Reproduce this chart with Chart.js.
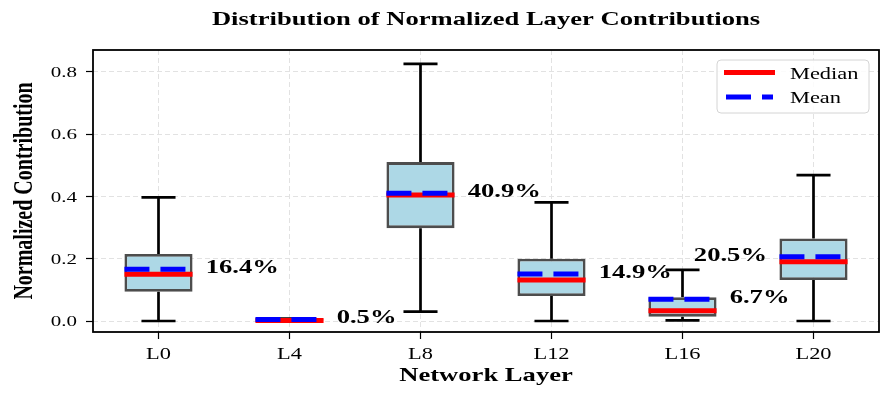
<!DOCTYPE html>
<html>
<head>
<meta charset="utf-8">
<script src="https://cdn.jsdelivr.net/npm/chart.js@4.4.1/dist/chart.umd.min.js"></script>
<style>
  html, body { margin: 0; padding: 0; background: #fff; }
  #wrap { width: 896px; height: 398px; position: relative; }
</style>
</head>
<body>
<div id="wrap"><canvas id="boxChart"></canvas></div>
<script>
// Box plot data
const categories = ['L0', 'L4', 'L8', 'L12', 'L16', 'L20'];
const whiskerLow = [0.0, 0.0, 0.03, 0.0, 0.002, 0.0];
const q1 = [0.094, 0.0, 0.298, 0.08, 0.014, 0.1315];
const medians = [0.150, 0.002, 0.404, 0.1315, 0.033, 0.19];
const means = [0.166, 0.005, 0.41, 0.151, 0.0696, 0.206];
const q3 = [0.215, 0.006, 0.51, 0.2, 0.076, 0.265];
const whiskerHigh = [0.397, 0.008, 0.825, 0.381, 0.164, 0.468];
const shareLabels = ['16.4%', '0.5%', '40.9%', '14.9%', '6.7%', '20.5%'];
const yTicks = [0.0, 0.2, 0.4, 0.6, 0.8];

const SERIF = '"Liberation Serif", "Times New Roman", serif';
const SX = 1.4; // the reference text is stretched horizontally

function stretchText(ctx, text, x, y, font, align, baseline, angle) {
    ctx.save();
    ctx.translate(x, y);
    ctx.scale(SX, 1);
    if (angle) ctx.rotate(angle);
    ctx.font = font;
    ctx.textAlign = align;
    ctx.textBaseline = baseline;
    ctx.fillStyle = '#000';
    ctx.fillText(text, 0, 0);
    ctx.restore();
}

function hLine(ctx, x1, x2, y, color, width, dash) {
    ctx.save();
    ctx.strokeStyle = color;
    ctx.lineWidth = width;
    ctx.setLineDash(dash || []);
    ctx.beginPath();
    ctx.moveTo(x1, y);
    ctx.lineTo(x2, y);
    ctx.stroke();
    ctx.restore();
}

// whiskers go under the boxes
const whiskerPlugin = {
    id: 'whiskers',
    beforeDatasetsDraw(chart) {
        const ctx = chart.ctx;
        const x = chart.scales.x, y = chart.scales.y;
        const capHalf = (x.getPixelForValue(1) - x.getPixelForValue(0)) * 0.13;
        ctx.save();
        ctx.strokeStyle = '#000';
        ctx.lineWidth = 2.7;
        categories.forEach((c, i) => {
            const px = x.getPixelForValue(i);
            ctx.beginPath();
            ctx.moveTo(px, y.getPixelForValue(whiskerLow[i]));
            ctx.lineTo(px, y.getPixelForValue(q1[i]));
            ctx.moveTo(px, y.getPixelForValue(q3[i]));
            ctx.lineTo(px, y.getPixelForValue(whiskerHigh[i]));
            ctx.stroke();
            [whiskerLow[i], whiskerHigh[i]].forEach(v => {
                const py = y.getPixelForValue(v);
                ctx.beginPath();
                ctx.moveTo(px - capHalf, py);
                ctx.lineTo(px + capHalf, py);
                ctx.stroke();
            });
        });
        ctx.restore();
    }
};

// medians, means, value labels, frame, legend and all text
const overlayPlugin = {
    id: 'overlay',
    afterDatasetsDraw(chart) {
        const ctx = chart.ctx;
        const x = chart.scales.x, y = chart.scales.y;
        const area = chart.chartArea;
        const bars = chart.getDatasetMeta(0).data;
        const step = x.getPixelForValue(1) - x.getPixelForValue(0);

        bars.forEach((bar, i) => {
            const left = bar.x - bar.width / 2;
            const right = bar.x + bar.width / 2;
            hLine(ctx, left, right, y.getPixelForValue(medians[i]), '#ff0000', 5);
            hLine(ctx, left, right, y.getPixelForValue(means[i]), '#0000ff', 5, [25, 11]);
        });

        // share labels at the mean height
        categories.forEach((c, i) => {
            const px = x.getPixelForValue(i);
            const py = y.getPixelForValue(means[i]) - 1;
            const font = 'bold 19px ' + SERIF;
            if (i === categories.length - 1) {
                stretchText(ctx, shareLabels[i], px - step * 0.355, py, font, 'right', 'middle');
            } else {
                stretchText(ctx, shareLabels[i], px + step * 0.36, py, font, 'left', 'middle');
            }
        });

        // frame
        ctx.save();
        ctx.strokeStyle = '#000';
        ctx.lineWidth = 1.8;
        ctx.strokeRect(area.left, area.top, area.right - area.left, area.bottom - area.top);
        ctx.restore();

        // tick labels
        yTicks.forEach(v => {
            stretchText(ctx, v.toFixed(1), area.left - 16, y.getPixelForValue(v) + 1.5,
                '15px ' + SERIF, 'right', 'middle');
        });
        categories.forEach((c, i) => {
            stretchText(ctx, c, x.getPixelForValue(i), area.bottom + 26.5,
                '16px ' + SERIF, 'center', 'alphabetic');
        });

        const midX = (area.left + area.right) / 2;
        const midY = (area.top + area.bottom) / 2;
        stretchText(ctx, 'Distribution of Normalized Layer Contributions', midX, 25,
            'bold 19px ' + SERIF, 'center', 'alphabetic');
        stretchText(ctx, 'Network Layer', midX, area.bottom + 49,
            'bold 19px ' + SERIF, 'center', 'alphabetic');
        stretchText(ctx, 'Normalized Contribution', 25, midY,
            'bold 20px ' + SERIF, 'center', 'middle', -Math.PI / 2);

        // legend
        const lx = area.right - 162, ly = area.top + 10, lw = 152, lh = 53;
        ctx.save();
        ctx.fillStyle = 'rgba(255,255,255,0.85)';
        ctx.strokeStyle = '#d4d4d4';
        ctx.lineWidth = 1;
        ctx.beginPath();
        ctx.roundRect(lx, ly, lw, lh, 4);
        ctx.fill();
        ctx.stroke();
        ctx.restore();
        hLine(ctx, lx + 7, lx + 58, ly + 12.5, '#ff0000', 5);
        hLine(ctx, lx + 9, lx + 56, ly + 37, '#0000ff', 5, [25, 11]);
        stretchText(ctx, 'Median', lx + 73, ly + 19, '16px ' + SERIF, 'left', 'alphabetic');
        stretchText(ctx, 'Mean', lx + 73, ly + 43, '16px ' + SERIF, 'left', 'alphabetic');
    }
};

const gridStyle = {
    offset: false,
    color: '#e2e2e2',
    lineWidth: 1,
    drawTicks: true,
    tickLength: 7,
    tickColor: '#000',
    tickWidth: 1.2,
    tickBorderDash: []
};

new Chart(document.getElementById('boxChart').getContext('2d'), {
    type: 'bar',
    data: {
        labels: categories,
        datasets: [{
            label: 'IQR',
            data: q1.map((v, i) => [v, q3[i]]),
            backgroundColor: '#add8e6',
            borderColor: '#4d4d4d',
            borderWidth: 2.8,
            borderSkipped: false,
            barPercentage: 0.52,
            categoryPercentage: 1.0
        }]
    },
    options: {
        responsive: true,
        maintainAspectRatio: false,
        animation: false,
        layout: { padding: { top: 50, left: 93, right: 17, bottom: 66 } },
        plugins: {
            legend: { display: false },
            title: { display: false },
            tooltip: { enabled: false }
        },
        scales: {
            x: {
                type: 'category',
                offset: true,
                grid: gridStyle,
                border: { display: false, dash: [5, 3] },
                ticks: { display: false },
                afterFit: s => { s.height = 0; }
            },
            y: {
                min: -0.0353,
                max: 0.8697,
                afterBuildTicks: s => { s.ticks = yTicks.map(v => ({ value: v })); },
                grid: gridStyle,
                border: { display: false, dash: [5, 3] },
                ticks: { display: false },
                afterFit: s => { s.width = 0; }
            }
        }
    },
    plugins: [whiskerPlugin, overlayPlugin]
});
</script>
</body>
</html>
